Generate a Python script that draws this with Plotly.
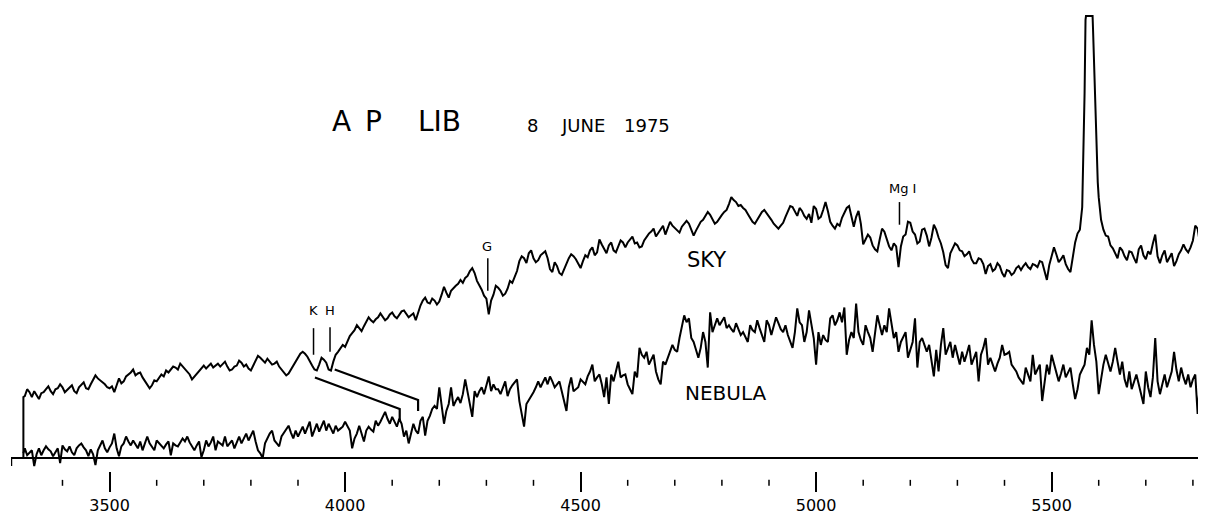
import plotly.graph_objects as go

# ---------------- data (wavelength in Angstrom, relative intensity) ----------------
SKY_START = 3320
SKY_STEP = 5
sky_flux = [
    63, 70, 67, 62, 68, 64, 60, 66, 67, 70, 73, 68, 65, 70, 71, 75, 72, 67, 69, 72,
    74, 68, 66, 72, 75, 77, 71, 70, 75, 80, 84, 81, 79, 77, 75, 72, 71, 73, 67, 74,
    81, 76, 78, 83, 85, 87, 90, 84, 86, 87, 82, 78, 75, 71, 74, 79, 78, 81, 85, 83,
    89, 87, 90, 93, 92, 90, 96, 93, 90, 88, 85, 80, 83, 86, 89, 92, 94, 91, 94, 96,
    92, 94, 96, 93, 96, 98, 93, 89, 90, 93, 94, 99, 97, 93, 95, 91, 89, 94, 99, 104,
    102, 99, 97, 101, 98, 95, 96, 98, 93, 90, 88, 84, 86, 90, 95, 99, 102, 106, 108, 106,
    103, 98, 94, 90, 89, 95, 102, 100, 97, 90, 89, 98, 105, 108, 111, 115, 113, 119, 124, 127,
    130, 135, 132, 129, 134, 139, 143, 140, 138, 141, 143, 147, 144, 140, 142, 146, 148, 144, 142, 146,
    149, 150, 146, 143, 145, 147, 140, 148, 155, 160, 163, 158, 157, 162, 160, 156, 159, 166, 174, 168,
    163, 170, 173, 175, 177, 181, 178, 183, 185, 190, 193, 188, 180, 176, 171, 165, 162, 146, 160, 166,
    175, 173, 170, 165, 167, 172, 180, 178, 185, 190, 200, 205, 203, 198, 208, 211, 203, 199, 201, 206,
    208, 210, 203, 192, 189, 199, 195, 188, 186, 192, 198, 203, 207, 205, 202, 197, 193, 200, 206, 204,
    211, 214, 206, 209, 222, 217, 213, 208, 216, 219, 211, 209, 215, 221, 219, 214, 219, 222, 225, 218,
    219, 214, 215, 221, 225, 228, 230, 233, 225, 229, 232, 236, 227, 233, 240, 236, 234, 231, 229, 235,
    238, 241, 238, 232, 226, 231, 236, 240, 242, 246, 250, 247, 243, 238, 240, 244, 247, 250, 252, 258,
    265, 262, 260, 256, 257, 254, 252, 248, 244, 240, 238, 242, 246, 250, 252, 249, 246, 242, 238, 235,
    233, 236, 239, 245, 250, 256, 255, 250, 246, 254, 251, 246, 243, 248, 239, 256, 253, 243, 245, 252,
    260, 251, 240, 236, 233, 238, 236, 244, 250, 254, 256, 244, 235, 245, 251, 238, 217, 222, 227, 224,
    216, 212, 210, 222, 233, 230, 223, 215, 211, 218, 215, 194, 215, 225, 227, 240, 239, 230, 227, 218,
    220, 232, 233, 226, 215, 224, 237, 232, 224, 218, 209, 196, 193, 208, 213, 218, 216, 211, 210, 205,
    207, 210, 202, 198, 198, 203, 202, 197, 187, 195, 197, 190, 192, 198, 195, 188, 184, 191, 190, 186,
    188, 193, 195, 191, 195, 198, 194, 192, 197, 196, 194, 200, 199, 190, 181, 196, 206, 214, 207, 199,
    202, 206, 197, 192, 189, 205, 219, 228,
    232,
    255, 370, 449, 449, 449, 400, 317, 265, 242,
    232, 226, 225, 216, 213, 208, 203, 214, 211, 205, 201, 210, 209, 203, 198, 212, 216, 206, 202, 210,
    207, 218, 227, 205, 198, 206, 211, 199, 203, 208, 195, 200, 207, 211, 217, 212, 209, 214, 221, 236,
    233, 218, 211, 208,
    205,
]

# extra samples on the flanks of the clipped [O I] 5577 emission line
sky_peak_wavelength = [5567, 5572, 5573, 5587, 5588, 5592, 5598, 5602]
sky_peak_flux = [298, 445, 449, 449, 435, 365, 280, 252]

# pen rising from the baseline at the start of the sky scan
sky_lead_wavelength = [3317, 3317]
sky_lead_flux = [0, 62]

NEB_START = 3320
NEB_STEP = 5
nebula_flux = [
    10, 3, 6, 8, -8, 4, 10, 3, 8, 12,
    9, 7, 2, 6, 10, -5, 13, 9, 7, 12,
    6, 3, 10, 13, 15, 11, 8, 2, 9, 4,
    -7, 8, 13, 18, 10, 6, 11, 15, 25, 10,
    2, 12, 15, 22, 17, 13, 18, 14, 10, 17,
    8, 15, 22, 15, 11, 8, 18, 15, 13, 10,
    14, 17, 3, 15, 13, 12, 16, 20, 17, 22,
    16, 12, 8, 13, 17, 1, 8, 18, 12, 16,
    22, 8, 17, 15, 13, 22, 12, 15, 18, 10,
    16, 22, 15, 20, 25, 18, 23, 28, 17, 8,
    5, 0, 15, 20, 25, 28, 18, 15, 12, 22,
    26, 30, 33, 26, 20, 28, 22, 27, 32, 25,
    31, 37, 22, 29, 35, 27, 32, 38, 28, 35,
    30, 25, 33, 28, 30, 32, 37, 33, 28, 10,
    20, 25, 33, 25, 17, 28, 32, 29, 27, 38,
    33, 37, 42, 47, 40, 35, 42, 37, 32, 40,
    35, 22, 28, 15, 25, 35, 28, 25, 38, 42,
    23, 38, 43, 50, 53, 50, 72, 55, 35, 48,
    55, 72, 53, 58, 62, 56, 65, 80, 68, 55,
    42, 68, 62, 68, 72, 65, 74, 83, 68, 75,
    70, 70, 65, 71, 78, 63, 70, 74, 77, 80,
    58, 45, 32, 55, 59, 62, 67, 72, 78, 72,
    77, 82, 75, 83, 78, 72, 75, 78, 68, 58,
    48, 72, 82, 68, 70, 72, 80, 77, 75, 83,
    88, 95, 78, 82, 85, 75, 62, 82, 55, 85,
    78, 88, 98, 82, 84, 85, 75, 70, 65, 88,
    82, 112, 105, 102, 108, 95, 100, 105, 88, 80,
    75, 98, 95, 102, 108, 115, 110, 108, 122, 135,
    145, 138, 142, 122, 118, 110, 102, 112, 128, 118,
    92, 148, 128, 135, 142, 135, 139, 143, 132, 135,
    131, 128, 137, 131, 125, 128, 122, 118, 135, 130,
    128, 140, 132, 125, 118, 140, 135, 125, 135, 143,
    137, 131, 128, 135, 125, 118, 112, 128, 152, 138,
    135, 118, 128, 150, 136, 122, 95, 128, 115, 125,
    120, 118, 142, 145, 135, 140, 148, 138, 153, 105,
    120, 128, 122, 157, 128, 120, 115, 135, 128, 122,
    108, 128, 145, 135, 125, 135, 128, 152, 135, 122,
    128, 108, 118, 124, 128, 102, 110, 118, 142, 92,
    118, 122, 115, 108, 115, 100, 83, 110, 88, 115,
    132, 105, 112, 118, 102, 115, 105, 95, 108, 98,
    106, 115, 95, 102, 108, 78, 105, 112, 122, 95,
    102, 95, 88, 96, 102, 115, 105, 106, 108, 95,
    92, 88, 82, 79, 75, 92, 84, 78, 105, 85,
    90, 95, 58, 80, 95, 85, 105, 96, 88, 78,
    86, 95, 82, 88, 92, 75, 60, 70, 85, 90,
    95, 112, 105, 140, 115, 98, 65, 80, 95, 105,
    95, 88, 98, 112, 98, 85, 98, 80, 72, 88,
    70, 78, 85, 75, 66, 55, 88, 72, 62, 82,
    122, 78, 65, 75, 85, 72, 80, 88, 108, 90,
    78, 92, 82, 75, 85, 72, 80, 85, 45, 78,
    92,
]
nebula_lead_wavelength = [3317]
nebula_lead_flux = [5]
nebula_tail_wavelength = [5822, 5823, 5823]
nebula_tail_flux = [68, 112, 0]

# line identifications on the sky spectrum
line_ids = ["K", "H", "G", "Mg I"]
line_wavelength = [3933, 3968, 4303, 5177]
line_tick_bottom = [105, 108, 170, 237]
line_tick_top = [132, 133, 203, 260]
label_wavelength = [3933, 3968, 4302, 5184]
label_flux = [150, 150, 215, 274]

# connectors from sky K/H to the nebula
k_link_wavelength = [3936, 4116, 4116]
k_link_flux = [82, 50, 37]
h_link_wavelength = [3978, 4155, 4155]
h_link_flux = [90, 59, 48]

major_ticks = [3500, 4000, 4500, 5000, 5500]
minor_ticks = [w for w in range(3400, 5900, 100) if w % 500 != 0]

X_RANGE = [3290.7, 5827.8]
Y_RANGE = [-13, 457]

# ---------------- build traces ----------------
sky_grid_wl = [SKY_START + SKY_STEP * i for i in range(len(sky_flux))]
sky_pts = sorted(zip(sky_grid_wl + sky_peak_wavelength, sky_flux + sky_peak_flux))
sky_x = sky_lead_wavelength + [p[0] for p in sky_pts]
sky_y = sky_lead_flux + [p[1] for p in sky_pts]

neb_grid_wl = [NEB_START + NEB_STEP * i for i in range(len(nebula_flux))]
neb_x = nebula_lead_wavelength + neb_grid_wl + nebula_tail_wavelength
neb_y = nebula_lead_flux + nebula_flux + nebula_tail_flux

FONT = "DejaVu Sans"
fig = go.Figure()
fig.add_trace(go.Scatter(x=sky_x, y=sky_y, mode="lines", name="SKY",
                         line=dict(color="black", width=2.0), hoverinfo="skip"))
fig.add_trace(go.Scatter(x=neb_x, y=neb_y, mode="lines", name="NEBULA",
                         line=dict(color="black", width=2.0), hoverinfo="skip"))
fig.add_trace(go.Scatter(x=k_link_wavelength, y=k_link_flux, mode="lines",
                         line=dict(color="black", width=2.2), hoverinfo="skip"))
fig.add_trace(go.Scatter(x=h_link_wavelength, y=h_link_flux, mode="lines",
                         line=dict(color="black", width=2.2), hoverinfo="skip"))

shapes = []
for w, b, t in zip(line_wavelength, line_tick_bottom, line_tick_top):
    shapes.append(dict(type="line", xref="x", yref="y", x0=w, x1=w, y0=b, y1=t,
                       line=dict(color="black", width=1.5)))
PLOT_H = 470
for w in minor_ticks:
    shapes.append(dict(type="line", xref="x", yref="paper", x0=w, x1=w,
                       y0=-9 / PLOT_H, y1=-15 / PLOT_H,
                       line=dict(color="black", width=1.5)))
# short end mark at the left of the baseline
shapes.append(dict(type="line", xref="x", yref="y", x0=X_RANGE[0] + 1, x1=X_RANGE[0] + 1,
                   y0=0, y1=-8, line=dict(color="black", width=1.5)))

annotations = []
for txt, x, y in zip(line_ids, label_wavelength, label_flux):
    annotations.append(dict(x=x, y=y, text=txt, showarrow=False, xref="x", yref="y",
                            font=dict(family=FONT, size=13, color="black")))
for txt, x in zip(["A", "P", "LIB"], [3992, 4060, 4201]):
    annotations.append(dict(x=x, y=342, text=txt, showarrow=False, xref="x", yref="y",
                            font=dict(family=FONT, size=28, color="black")))
for txt, x in zip(["8", "JUNE", "1975"], [4397, 4506, 4642]):
    annotations.append(dict(x=x, y=338, text=txt, showarrow=False, xref="x", yref="y",
                            font=dict(family=FONT, size=18, color="black")))
annotations.append(dict(x=4768, y=201, text="SKY", showarrow=False, xref="x", yref="y",
                        font=dict(family=FONT, size=21, color="black")))
annotations.append(dict(x=4808, y=66, text="NEBULA", showarrow=False, xref="x", yref="y",
                        font=dict(family=FONT, size=20, color="black")))

# the page body adds an 8px margin, so the figure is 8px smaller than the window
fig.update_layout(
    width=1198, height=507,
    margin=dict(l=3, r=0, t=0, b=37),
    paper_bgcolor="white", plot_bgcolor="white",
    showlegend=False,
    shapes=shapes, annotations=annotations,
    xaxis=dict(range=X_RANGE, tickvals=major_ticks, ticks="outside", ticklen=20,
               tickwidth=1.5, tickcolor="black", showline=False, showgrid=False,
               zeroline=False, tickfont=dict(family=FONT, size=16, color="black")),
    yaxis=dict(range=Y_RANGE, showticklabels=False, ticks="", showgrid=False,
               showline=False, zeroline=True, zerolinecolor="black", zerolinewidth=1.5),
)

fig.write_html("out.html")
